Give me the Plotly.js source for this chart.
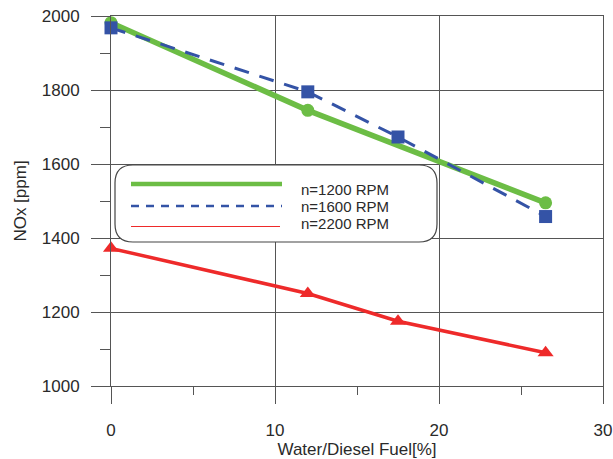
<!DOCTYPE html>
<html><head><meta charset="utf-8">
<script src="https://cdn.plot.ly/plotly-3.0.1.min.js"></script>
<style>html,body{margin:0;padding:0;background:#fff}#chart{width:613px;height:459px}</style>
</head><body><div id="chart"></div>
<script>
// Data
const waterFraction1200 = [0, 12, 26.5];
const nox1200 = [1982, 1745, 1495];
const waterFraction1600 = [0, 12, 17.5, 26.5];
const nox1600 = [1968, 1795, 1673, 1458];
const waterFraction2200 = [0, 12, 17.5, 26.5];
const nox2200 = [1372, 1250, 1175, 1090];
const seriesNames = ["n=1200 RPM", "n=1600 RPM", "n=2200 RPM"];
const xTicks = [0, 10, 20, 30];
const yTicks = [1000, 1200, 1400, 1600, 1800, 2000];

const FONT = "Arial, 'Liberation Sans', sans-serif";
const GREEN = "#6cbd45", BLUE = "#3453a6", RED = "#ee2a2a";
const L = 111, R = 603, T = 16, B = 386;
const px = v => (v - L) / (R - L);
const py = v => (B - v) / (B - T);

const traces = [
  {x: waterFraction1200, y: nox1200, name: seriesNames[0], mode: "lines+markers", cliponaxis: false,
   line: {color: GREEN, width: 5.5}, marker: {symbol: "circle", size: 13, color: GREEN}},
  {x: waterFraction1600, y: nox1600, name: seriesNames[1], mode: "lines+markers", cliponaxis: false,
   line: {color: BLUE, width: 3, dash: "15px,11px"}, marker: {symbol: "square", size: 13, color: BLUE}},
  {x: waterFraction2200, y: nox2200, name: seriesNames[2], mode: "lines+markers", cliponaxis: false,
   line: {color: RED, width: 3.5}, marker: {symbol: "triangle-up", size: 14, color: RED}}
];

// rounded legend box
const bx0 = px(115), bx1 = px(437), by0 = py(242), by1 = py(165);
const rx = 18 / (R - L), ry = 18 / (B - T);
const boxPath = `M ${bx0+rx},${by1} L ${bx1-rx},${by1} Q ${bx1},${by1} ${bx1},${by1-ry} ` +
  `L ${bx1},${by0+ry} Q ${bx1},${by0} ${bx1-rx},${by0} L ${bx0+rx},${by0} ` +
  `Q ${bx0},${by0} ${bx0},${by0+ry} L ${bx0},${by1-ry} Q ${bx0},${by1} ${bx0+rx},${by1} Z`;

const shapes = [
  {type: "path", xref: "paper", yref: "paper", path: boxPath, layer: "above",
   fillcolor: "#ffffff", line: {color: "#444", width: 1.2}},
  {type: "line", xref: "paper", yref: "paper", x0: px(131), x1: px(282), y0: py(184), y1: py(184),
   layer: "above", line: {color: GREEN, width: 4.5}},
  {type: "line", xref: "paper", yref: "paper", x0: px(131), x1: px(282), y0: py(206), y1: py(206),
   layer: "above", line: {color: BLUE, width: 2.5, dash: "8px,7px"}},
  {type: "line", xref: "paper", yref: "paper", x0: px(131), x1: px(280), y0: py(226.5), y1: py(226.5),
   layer: "above", line: {color: RED, width: 1.2}}
];
const annotations = [
  {xref: "paper", yref: "paper", x: px(300), y: py(189.5), text: seriesNames[0]},
  {xref: "paper", yref: "paper", x: px(300), y: py(206.5), text: seriesNames[1]},
  {xref: "paper", yref: "paper", x: px(300), y: py(223.5), text: seriesNames[2]}
].map(a => Object.assign(a, {showarrow: false, xanchor: "left", yanchor: "middle", borderpad: 0,
  font: {family: FONT, size: 15, color: "#2a2a2a"}}));

const axisCommon = {
  showline: true, linecolor: "#555", linewidth: 1, mirror: true,
  showgrid: true, gridcolor: "#555", gridwidth: 1, zeroline: false,
  ticks: "outside", tickcolor: "#555", tickwidth: 1,
  tickfont: {family: FONT, size: 17, color: "#2a2a2a"}
};

const layout = {
  width: 613, height: 459,
  margin: {l: L, r: 613 - R, t: T, b: 459 - B, pad: 0},
  paper_bgcolor: "#fff", plot_bgcolor: "#fff",
  showlegend: false,
  xaxis: Object.assign({}, axisCommon, {
    range: [0, 30], tickvals: xTicks, ticklen: 17, ticklabelstandoff: 12,
    minor: {dtick: 5, tick0: 0, ticks: "outside", ticklen: 8, tickcolor: "#555", showgrid: false},
    title: {text: "Water/Diesel Fuel[%]", standoff: 2, font: {family: FONT, size: 17, color: "#2a2a2a"}}
  }),
  yaxis: Object.assign({}, axisCommon, {
    range: [1000, 2000], tickvals: yTicks, ticklen: 19, ticklabelstandoff: 8,
    minor: {dtick: 100, tick0: 1000, ticks: "outside", ticklen: 10, tickcolor: "#555", showgrid: false},
    title: {text: "NOx [ppm]", standoff: 10, font: {family: FONT, size: 17, color: "#2a2a2a"}}
  }),
  shapes: shapes,
  annotations: annotations
};

Plotly.newPlot("chart", traces, layout, {displayModeBar: false, staticPlot: true});
</script></body></html>
